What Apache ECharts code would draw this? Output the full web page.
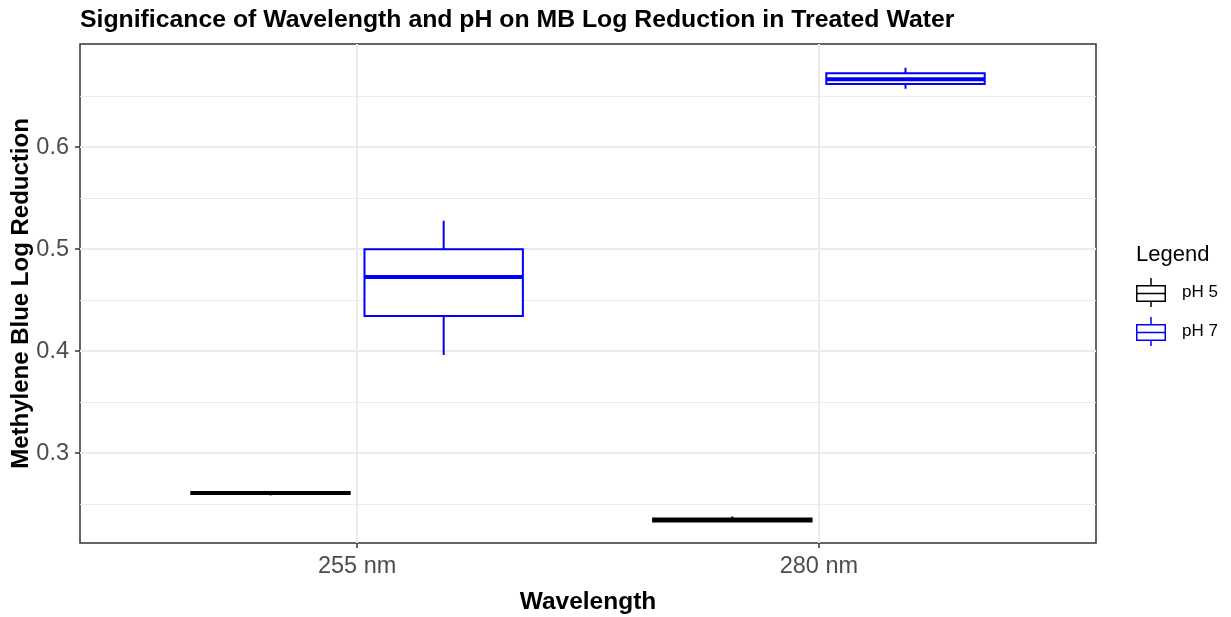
<!DOCTYPE html>
<html>
<head>
<meta charset="utf-8">
<script src="https://cdn.jsdelivr.net/npm/echarts@6/dist/echarts.min.js"></script>
<style>
  html, body { margin: 0; padding: 0; background: #ffffff; }
  #chart { width: 1231px; height: 617px; }
</style>
</head>
<body>
<div id="chart"></div>
<script>
// Wavelength categories on the x axis
const categories = ['255 nm', '280 nm'];
// Legend groups (pH levels)
const groups = ['pH 5', 'pH 7'];
// Five-number summaries per wavelength: [min, Q1, median, Q3, max]
const ph5Stats = [
  [0.2585, 0.2598, 0.2608, 0.2618, 0.2618],
  [0.2330, 0.2330, 0.2343, 0.2357, 0.2378]
];
const ph7Stats = [
  [0.3961, 0.4343, 0.4725, 0.4998, 0.5278],
  [0.6571, 0.6618, 0.6664, 0.6723, 0.6777]
];
// Axis tick values
const yMajorTicks = [0.3, 0.4, 0.5, 0.6];
const yMinorTicks = [0.25, 0.35, 0.45, 0.55, 0.65];
const xTicks = [1, 2];

const FONT = "'Liberation Sans', Arial, sans-serif";
const groupColors = ['#000000', '#0000ff'];
const dodge = [-0.1875, 0.1875];
const halfBox = 0.1715;

// Legend glyph: box with median bar and whiskers (30 x 29 units)
const boxIcon = 'path://M0 7H30V24H0Z M1.5 8.5V22.5H28.5V8.5Z M1.5 14.75H28.5V16.25H1.5Z ' +
  'M14.25 0H15.75V7H14.25Z M14.25 24H15.75V29H14.25Z';

function makeData(stats) {
  return stats.map((s, i) => [i + 1].concat(s));
}

function boxRenderer(groupIdx) {
  return function (params, api) {
    const x = api.value(0) + dodge[groupIdx];
    const vMin = api.value(1), q1 = api.value(2), med = api.value(3), q3 = api.value(4), vMax = api.value(5);
    const pL = api.coord([x - halfBox, q3]);
    const pR = api.coord([x + halfBox, q1]);
    const pMedL = api.coord([x - halfBox, med]);
    const pMedR = api.coord([x + halfBox, med]);
    const pTop = api.coord([x, vMax]);
    const pQ3 = api.coord([x, q3]);
    const pQ1 = api.coord([x, q1]);
    const pBot = api.coord([x, vMin]);
    const color = groupColors[groupIdx];
    const lineStyle = { stroke: color, lineWidth: 2, fill: null };
    return {
      type: 'group',
      children: [
        { type: 'line', shape: { x1: pTop[0], y1: pTop[1], x2: pQ3[0], y2: pQ3[1] }, style: lineStyle },
        { type: 'line', shape: { x1: pQ1[0], y1: pQ1[1], x2: pBot[0], y2: pBot[1] }, style: lineStyle },
        {
          type: 'rect',
          shape: { x: pL[0], y: pL[1], width: pR[0] - pL[0], height: pR[1] - pL[1] },
          style: { stroke: color, lineWidth: 2, fill: '#ffffff' }
        },
        { type: 'line', shape: { x1: pMedL[0], y1: pMedL[1], x2: pMedR[0], y2: pMedR[1] },
          style: { stroke: color, lineWidth: 4 } }
      ]
    };
  };
}

const chart = echarts.init(document.getElementById('chart'), null, { renderer: 'canvas' });

chart.setOption({
  backgroundColor: '#ffffff',
  animation: false,
  textStyle: { fontFamily: FONT },
  title: [
    {
      text: 'Significance of Wavelength and pH on MB Log Reduction in Treated Water',
      left: 75, top: 3,
      textStyle: { fontFamily: FONT, fontSize: 24.8, fontWeight: 'bold', color: '#000000' }
    },
    {
      text: 'Legend',
      left: 1131, top: 239,
      textStyle: { fontFamily: FONT, fontSize: 22, fontWeight: 'normal', color: '#000000' }
    }
  ],
  legend: {
    data: groups.map(g => ({ name: g, icon: boxIcon })),
    orient: 'vertical',
    left: 1131, top: 273,
    itemWidth: 30, itemHeight: 29, itemGap: 10,
    itemStyle: { borderWidth: 0 },
    textStyle: { fontFamily: FONT, fontSize: 17, color: '#000000', padding: [0, 0, 0, 11] }
  },
  grid: {
    left: 80, right: 135, top: 44, bottom: 74,
    outerBoundsMode: 'none', containLabel: false,
    show: true, borderColor: '#333333', borderWidth: 1.5, backgroundColor: '#ffffff'
  },
  xAxis: {
    type: 'value', min: 0.4, max: 2.6,
    name: 'Wavelength', nameLocation: 'middle', nameGap: 47, nameMoveOverlap: false,
    nameTextStyle: { fontFamily: FONT, fontSize: 24.5, fontWeight: 'bold', color: '#000000' },
    axisLine: { show: false },
    axisTick: { show: true, customValues: xTicks, length: 5, lineStyle: { color: '#333333', width: 1.5 } },
    axisLabel: {
      customValues: xTicks, margin: 12,
      fontFamily: FONT, fontSize: 23.5, color: '#4d4d4d',
      formatter: v => categories[Math.round(v) - 1]
    },
    splitLine: { show: true, lineStyle: { color: '#ebebeb', width: 2 } }
  },
  yAxis: [
    {
      type: 'value', min: 0.2118, max: 0.701,
      name: 'Methylene Blue Log Reduction', nameLocation: 'middle', nameGap: 47, nameMoveOverlap: false,
      nameTextStyle: { fontFamily: FONT, fontSize: 24, fontWeight: 'bold', color: '#000000' },
      axisLine: { show: false },
      axisTick: { show: true, customValues: yMajorTicks, length: 5, lineStyle: { color: '#333333', width: 1.5 } },
      axisLabel: {
        customValues: yMajorTicks, margin: 11,
        fontFamily: FONT, fontSize: 23.5, color: '#4d4d4d',
        formatter: v => v.toFixed(1)
      },
      splitLine: { show: true, lineStyle: { color: '#ebebeb', width: 2 } },
      z: 1
    },
    {
      type: 'value', min: 0.2118, max: 0.701, position: 'left',
      axisLine: { show: false }, axisTick: { show: false, customValues: yMinorTicks },
      axisLabel: { show: false, customValues: yMinorTicks },
      splitLine: { show: true, lineStyle: { color: '#ebebeb', width: 1 } },
      z: 0
    }
  ],
  series: [
    {
      name: groups[0], type: 'custom', color: groupColors[0],
      renderItem: boxRenderer(0), data: makeData(ph5Stats),
      encode: { x: 0, y: [1, 2, 3, 4, 5] }, z: 3
    },
    {
      name: groups[1], type: 'custom', color: groupColors[1],
      renderItem: boxRenderer(1), data: makeData(ph7Stats),
      encode: { x: 0, y: [1, 2, 3, 4, 5] }, z: 3
    }
  ]
});
</script>
</body>
</html>
